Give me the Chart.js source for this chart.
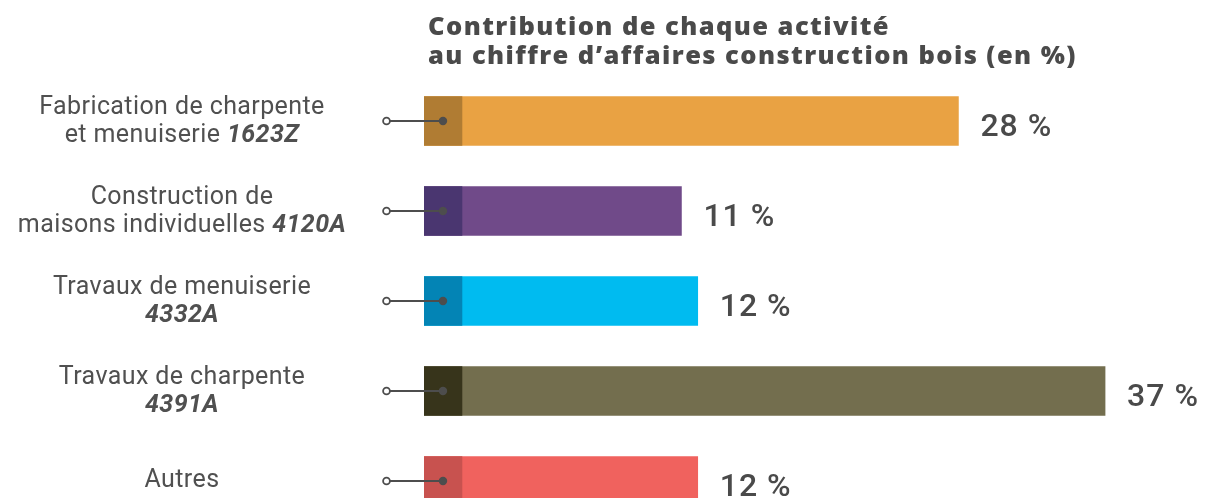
<!DOCTYPE html>
<html><head><meta charset="utf-8">
<script src="https://cdn.jsdelivr.net/npm/chart.js@4.4.0/dist/chart.umd.min.js"></script>
<style>
html,body{margin:0;padding:0;background:#fff;overflow:hidden;width:1224px;height:498px}
#wrap{position:relative;width:1224px;height:540px}
</style>
</head><body>
<div id="wrap"><canvas id="c" width="1224" height="540"></canvas></div>
<script>
const titleLines = ["Contribution de chaque activité", "au chiffre d’affaires construction bois (en %)"];
const labelLine1 = ["Fabrication de charpente", "Construction de", "Travaux de menuiserie", "Travaux de charpente", "Autres"];
const labelLine2 = ["et menuiserie ", "maisons individuelles ", "", "", ""];
const activityCodes = ["1623Z", "4120A", "4332A", "4391A", ""];
const shares = [28, 11, 12, 37, 12];
const valueLabels = ["28 %", "11 %", "12 %", "37 %", "12 %"];
const barColors = ["#E9A243", "#704A89", "#00BBF0", "#736E4E", "#F0625E"];
const darkColors = ["#B07C33", "#4A3670", "#0384B5", "#37341B", "#C8524F"];

const X_MIN = -4.8, X_MAX = 44.3, DARK_LEN = 2.33;

const decor = {
  id: 'decor',
  afterDatasetsDraw(chart) {
    const ctx = chart.ctx;
    const main = chart.getDatasetMeta(1).data;
    const dark = chart.getDatasetMeta(0).data;
    ctx.save();
    // title
    ctx.fillStyle = '#4a4a4a';
    ctx.textAlign = 'left';
    ctx.textBaseline = 'alphabetic';
    ctx.letterSpacing = '0px';
    ctx.font = '800 25.5px "Open Sans"';
    const w2 = ctx.measureText(titleLines[1]).width;
    const sp = Math.max(0, Math.min(2, (649 - w2) / titleLines[1].length));
    ctx.letterSpacing = sp.toFixed(2) + 'px';
    ctx.fillText(titleLines[0], 428, 35);
    ctx.fillText(titleLines[1], 428, 64);
    ctx.letterSpacing = '0px';

    for (let i = 0; i < main.length; i++) {
      const b = main[i], d = dark[i];
      const y = b.y;
      const dL = Math.min(d.base, d.x), dR = Math.max(d.base, d.x);
      const bR = Math.max(b.base, b.x);
      const dotX = (dL + dR) / 2;
      const circX = dL - 37.5;
      // connector
      ctx.strokeStyle = '#4d4d4d';
      ctx.lineWidth = 2;
      ctx.beginPath(); ctx.moveTo(circX + 3.5, y); ctx.lineTo(dotX, y); ctx.stroke();
      ctx.fillStyle = '#4d4d4d';
      ctx.beginPath(); ctx.arc(dotX, y, 4.2, 0, Math.PI * 2); ctx.fill();
      ctx.fillStyle = '#fff';
      ctx.lineWidth = 1.8;
      ctx.beginPath(); ctx.arc(circX, y, 3.4, 0, Math.PI * 2); ctx.fill(); ctx.stroke();

      // value label
      ctx.fillStyle = '#4a4a4a';
      ctx.textAlign = 'left';
      ctx.font = '500 32px Roboto';
      ctx.letterSpacing = '1px';
      ctx.fillText(valueLabels[i], bR + 22, y + 15);
      ctx.letterSpacing = '0.4px';

      // category label
      ctx.fillStyle = '#505050';
      const cx = 182;
      const hasSecond = labelLine2[i] !== '' || activityCodes[i] !== '';
      ctx.font = '400 25px Roboto';
      ctx.textAlign = 'center';
      if (!hasSecond) {
        ctx.fillText(labelLine1[i], cx, y + 6);
      } else {
        ctx.fillText(labelLine1[i], cx, y - 7.5);
        ctx.textAlign = 'left';
        ctx.font = '400 25px Roboto';
        const wa = ctx.measureText(labelLine2[i]).width;
        ctx.font = 'italic 700 25px Roboto';
        const wb = ctx.measureText(activityCodes[i]).width;
        const sx = cx - (wa + wb) / 2;
        ctx.font = '400 25px Roboto';
        ctx.fillText(labelLine2[i], sx, y + 21);
        ctx.font = 'italic 700 25px Roboto';
        ctx.fillText(activityCodes[i], sx + wa, y + 21);
      }
      ctx.letterSpacing = '0px';
    }
    ctx.restore();
  }
};

new Chart(document.getElementById('c'), {
  type: 'bar',
  data: {
    labels: labelLine1,
    datasets: [
      {
        data: shares.map(() => [X_MIN, X_MIN + DARK_LEN]),
        backgroundColor: darkColors,
        grouped: false,
        barThickness: 49,
        order: 0
      },
      {
        data: shares.map(v => [X_MIN, v]),
        backgroundColor: barColors,
        grouped: false,
        barThickness: 49,
        order: 1
      }
    ]
  },
  options: {
    indexAxis: 'y',
    responsive: false,
    animation: false,
    layout: { padding: { left: 424, top: 76, right: 0, bottom: 14 } },
    scales: {
      x: { type: 'linear', min: X_MIN, max: X_MAX, display: false },
      y: { display: false }
    },
    plugins: { legend: { display: false }, tooltip: { enabled: false }, title: { display: false } }
  },
  plugins: [decor]
});
</script>
</body></html>
